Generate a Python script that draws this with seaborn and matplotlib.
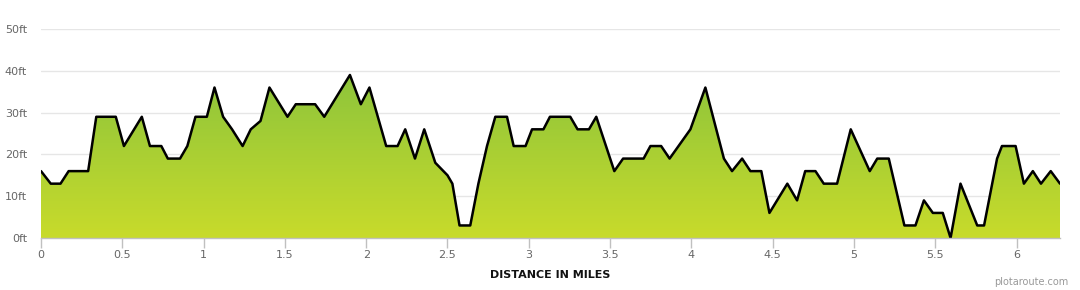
import numpy as np
import pandas as pd
import matplotlib
matplotlib.use("Agg")
import matplotlib.pyplot as plt
import seaborn as sns
from matplotlib.colors import LinearSegmentedColormap

# ---- data ----
distance_mi = [0.00, 0.06, 0.12, 0.17, 0.29, 0.34, 0.46, 0.51, 0.62, 0.67, 0.74, 0.78,
               0.855, 0.90, 0.95, 1.02, 1.067, 1.12, 1.175, 1.24, 1.29, 1.35, 1.405,
               1.516, 1.567, 1.686, 1.742, 1.90, 1.967, 2.02, 2.123, 2.193, 2.24, 2.30,
               2.357, 2.425, 2.50, 2.53, 2.574, 2.64, 2.69, 2.743, 2.794, 2.866, 2.907,
               2.98, 3.02, 3.09, 3.13, 3.255, 3.30, 3.37, 3.415, 3.526, 3.58, 3.706,
               3.748, 3.814, 3.866, 3.994, 4.086, 4.20, 4.25, 4.312, 4.363, 4.43, 4.48,
               4.59, 4.65, 4.70, 4.763, 4.814, 4.896, 4.98, 5.097, 5.143, 5.214, 5.31,
               5.378, 5.43, 5.485, 5.546, 5.594, 5.655, 5.758, 5.80, 5.88, 5.91, 5.994,
               6.045, 6.10, 6.15, 6.21, 6.267]
elevation_ft = [16, 13, 13, 16, 16, 29, 29, 22, 29, 22, 22, 19,
                19, 22, 29, 29, 36, 29, 26, 22, 26, 28, 36,
                29, 32, 32, 29, 39, 32, 36, 22, 22, 26, 19,
                26, 18, 15, 13, 3, 3, 13, 22, 29, 29, 22,
                22, 26, 26, 29, 29, 26, 26, 29, 16, 19, 19,
                22, 22, 19, 26, 36, 19, 16, 19, 16, 16, 6,
                13, 9, 16, 16, 13, 13, 26, 16, 19, 19, 3,
                3, 9, 6, 6, 0, 13, 3, 3, 19, 22, 22,
                13, 16, 13, 16, 13]
x_ticks = [0, 0.5, 1, 1.5, 2, 2.5, 3, 3.5, 4, 4.5, 5, 5.5, 6]
x_tick_labels = ["0", "0.5", "1", "1.5", "2", "2.5", "3", "3.5", "4", "4.5", "5", "5.5", "6"]
y_ticks = [0, 10, 20, 30, 40, 50]
y_tick_labels = ["0ft", "10ft", "20ft", "30ft", "40ft", "50ft"]

df = pd.DataFrame({"distance": distance_mi, "elevation": elevation_ft})

sns.set_theme(style="white")
plt.rcParams["font.family"] = ["DejaVu Sans"]

fig = plt.figure(figsize=(10.8, 2.9), dpi=100)
ax = fig.add_axes([41 / 1080, 1 - 238 / 290, (1060 - 41) / 1080, (238 - 29) / 290])

xmax = distance_mi[-1]
ax.set_xlim(0, xmax)
ax.set_ylim(0, 50)

# gridlines
for yv in y_ticks[1:]:
    ax.axhline(yv, color="#e6e6e6", lw=1, zorder=0)

# gradient fill clipped to area
poly = ax.fill_between(df["distance"], df["elevation"], 0, color="none", lw=0)
cmap = LinearSegmentedColormap.from_list("g", ["#c8db2b", "#8cc43c"])
grad = np.linspace(0, 1, 256).reshape(-1, 1)
im = ax.imshow(grad, cmap=cmap, origin="lower", aspect="auto",
               extent=[0, xmax, 0, 40], zorder=1)
path = poly.get_paths()[0]
im.set_clip_path(path, transform=ax.transData)

sns.lineplot(data=df, x="distance", y="elevation", ax=ax, color="black",
             lw=1.8, zorder=3, solid_joinstyle="round", solid_capstyle="round")

for s in ["top", "right", "left"]:
    ax.spines[s].set_visible(False)
ax.spines["bottom"].set_color("#c0c0c0")
ax.spines["bottom"].set_linewidth(1)
ax.spines["bottom"].set_zorder(4)

ax.set_xticks(x_ticks)
ax.set_xticklabels(x_tick_labels)
ax.set_yticks(y_ticks)
ax.set_yticklabels(y_tick_labels)
ax.tick_params(axis="x", which="both", bottom=True, length=7.5, width=1,
               color="#c0c0c0", labelsize=8, labelcolor="#666666", pad=1)
ax.tick_params(axis="y", left=False, length=0, labelsize=8, labelcolor="#666666", pad=10)
ax.set_xlabel("DISTANCE IN MILES", fontsize=8, fontweight="bold", color="#111111",
              labelpad=7)
ax.set_ylabel("")

fig.text(1068 / 1080, 1 - 282 / 290, "plotaroute.com", ha="right", va="center",
         fontsize=7, color="#999999")

fig.savefig("out.png", dpi=100)
